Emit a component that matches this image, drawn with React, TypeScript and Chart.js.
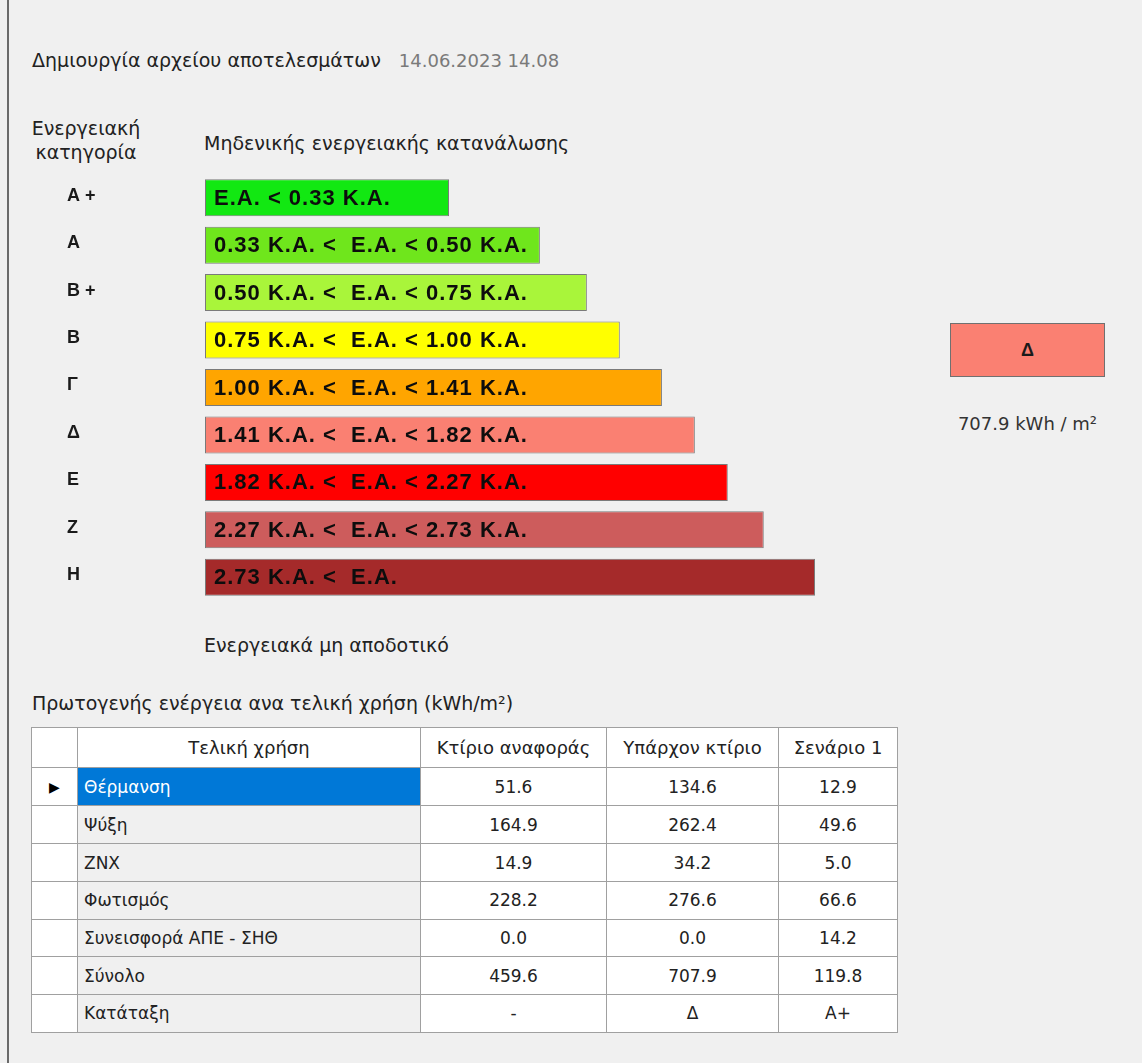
import React, { useEffect, useRef } from "react";
import { Chart, registerables } from "chart.js";

Chart.register(...registerables);

// ---------- data ----------
const categories = ["Α +", "Α", "Β +", "Β", "Γ", "Δ", "Ε", "Ζ", "Η"];
const bandLabels = [
  "Ε.Α. < 0.33 Κ.Α.",
  "0.33 Κ.Α. <  Ε.Α. < 0.50 Κ.Α.",
  "0.50 Κ.Α. <  Ε.Α. < 0.75 Κ.Α.",
  "0.75 Κ.Α. <  Ε.Α. < 1.00 Κ.Α.",
  "1.00 Κ.Α. <  Ε.Α. < 1.41 Κ.Α.",
  "1.41 Κ.Α. <  Ε.Α. < 1.82 Κ.Α.",
  "1.82 Κ.Α. <  Ε.Α. < 2.27 Κ.Α.",
  "2.27 Κ.Α. <  Ε.Α. < 2.73 Κ.Α.",
  "2.73 Κ.Α. <  Ε.Α.",
];
const barLengths = [4.0, 5.49, 6.26, 6.8, 7.49, 8.03, 8.57, 9.16, 10.0];
const barColors = [
  "#12e812",
  "#6fe61c",
  "#a9f53a",
  "#ffff00",
  "#ffa500",
  "#fa8072",
  "#ff0000",
  "#cd5c5c",
  "#a52a2a",
];

const creationLabel = "Δημιουργία αρχείου αποτελεσμάτων";
const creationDate = "14.06.2023 14.08";
const resultClass = "Δ";
const resultValue = "707.9 kWh / m²";

const columnHeaders = ["Τελική χρήση", "Κτίριο αναφοράς", "Υπάρχον κτίριο", "Σενάριο 1"];
const rowNames = ["Θέρμανση", "Ψύξη", "ΖΝΧ", "Φωτισμός", "Συνεισφορά ΑΠΕ - ΣΗΘ", "Σύνολο", "Κατάταξη"];
const referenceBuilding = ["51.6", "164.9", "14.9", "228.2", "0.0", "459.6", "-"];
const existingBuilding = ["134.6", "262.4", "34.2", "276.6", "0.0", "707.9", "Δ"];
const scenario1 = ["12.9", "49.6", "5.0", "66.6", "14.2", "119.8", "Α+"];

// ---------- styles ----------
const UI_FONT = '"DejaVu Sans", sans-serif';
const BAR_FONT = 'bold 22px "Liberation Sans", Arial, sans-serif';

const barTextPlugin = {
  id: "barText",
  afterDatasetsDraw(chart: any) {
    const ctx = chart.ctx;
    const meta = chart.getDatasetMeta(0);
    ctx.save();
    ctx.font = BAR_FONT;
    try {
      (ctx as any).letterSpacing = "1px";
    } catch (e) {}
    ctx.fillStyle = "#0d0d0d";
    ctx.textBaseline = "middle";
    ctx.textAlign = "left";
    meta.data.forEach((el: any, i: number) => {
      const p = el.getProps(["base", "y"], true);
      ctx.fillText(bandLabels[i], p.base + 9, p.y + 1);
    });
    ctx.restore();
  },
};

function BandChart() {
  const ref = useRef<HTMLCanvasElement | null>(null);
  useEffect(() => {
    if (!ref.current) return;
    const chart = new Chart(ref.current, {
      type: "bar",
      data: {
        labels: categories,
        datasets: [
          {
            data: barLengths,
            backgroundColor: barColors,
            borderColor: "#7a7a7a",
            borderWidth: 1,
            borderSkipped: false,
            barPercentage: 0.78,
            categoryPercentage: 1,
          },
        ],
      },
      options: {
        indexAxis: "y",
        responsive: false,
        animation: false,
        devicePixelRatio: 1,
        layout: { padding: { left: 27, right: 25, top: 14, bottom: 19 } },
        plugins: { legend: { display: false }, tooltip: { enabled: false } },
        scales: {
          x: { display: false, min: 0, max: 10 },
          y: {
            grid: { display: false },
            border: { display: false },
            afterFit: (scale: any) => {
              scale.width = 138;
            },
            ticks: {
              crossAlign: "far",
              labelOffset: -2,
              padding: 0,
              color: "#1a1a1a",
              font: { family: '"Liberation Sans", Arial, sans-serif', size: 18, weight: "bold" },
            },
          },
        },
      },
      plugins: [barTextPlugin],
    } as any);
    return () => chart.destroy();
  }, []);
  return (
    <canvas
      ref={ref}
      width={800}
      height={460}
      style={{ position: "absolute", left: 40, top: 160, width: 800, height: 460 }}
    />
  );
}

const textStyle: React.CSSProperties = {
  position: "absolute",
  fontFamily: UI_FONT,
  fontSize: 19,
  color: "#222",
  whiteSpace: "nowrap",
  lineHeight: "22px",
};

const gridColor = "#a0a0a0";

function DataTable() {
  const colWidths = [46, 343, 186, 172, 119];
  const cellBase: React.CSSProperties = {
    border: `1px solid ${gridColor}`,
    padding: 0,
    fontFamily: UI_FONT,
    fontSize: 17,
    color: "#222",
    whiteSpace: "nowrap",
  };
  return (
    <table
      style={{
        position: "absolute",
        left: 31,
        top: 727,
        borderCollapse: "collapse",
        tableLayout: "fixed",
        width: colWidths.reduce((a, b) => a + b, 0),
        background: "#fff",
      }}
    >
      <colgroup>
        {colWidths.map((w, i) => (
          <col key={i} style={{ width: w }} />
        ))}
      </colgroup>
      <tbody>
        <tr style={{ height: 40 }}>
          <td style={{ ...cellBase, background: "#fff" }} />
          {columnHeaders.map((h, i) => (
            <td key={i} style={{ ...cellBase, textAlign: "center", background: "#fff", fontSize: 18 }}>
              {h}
            </td>
          ))}
        </tr>
        {rowNames.map((name, r) => (
          <tr key={r} style={{ height: r < 3 ? 38 : 37.7 }}>
            <td style={{ ...cellBase, background: "#fff", textAlign: "center", fontSize: 14, color: "#000" }}>
              {r === 0 ? "▶" : ""}
            </td>
            <td
              style={{
                ...cellBase,
                paddingLeft: 6,
                background: r === 0 ? "#0078d7" : "#f0f0f0",
                color: r === 0 ? "#fff" : "#222",
              }}
            >
              {name}
            </td>
            <td style={{ ...cellBase, textAlign: "center" }}>{referenceBuilding[r]}</td>
            <td style={{ ...cellBase, textAlign: "center" }}>{existingBuilding[r]}</td>
            <td style={{ ...cellBase, textAlign: "center" }}>{scenario1[r]}</td>
          </tr>
        ))}
      </tbody>
    </table>
  );
}

export default function App() {
  return (
    <div
      style={{
        position: "absolute",
        left: 0,
        top: 0,
        width: 1142,
        height: 1063,
        background: "#f0f0f0",
        overflow: "hidden",
      }}
    >
      <div style={{ position: "absolute", left: 7, top: 0, width: 2, height: 1063, background: "#6a6a6a" }} />
      <div style={{ ...textStyle, left: 32, top: 49 }}>
        {creationLabel}
        <span style={{ color: "#7a7a7a", marginLeft: 18, fontSize: 18 }}>{creationDate}</span>
      </div>
      <div style={{ ...textStyle, left: 28, top: 116, width: 116, textAlign: "center", lineHeight: "24px" }}>
        Ενεργειακή
        <br />
        κατηγορία
      </div>
      <div style={{ ...textStyle, left: 204, top: 132 }}>Μηδενικής ενεργειακής κατανάλωσης</div>
      <BandChart />
      <div style={{ ...textStyle, left: 204, top: 634 }}>Ενεργειακά μη αποδοτικό</div>
      <div style={{ ...textStyle, left: 32, top: 692 }}>Πρωτογενής ενέργεια ανα τελική χρήση (kWh/m²)</div>
      <div
        style={{
          position: "absolute",
          left: 950,
          top: 323,
          width: 155,
          height: 54,
          boxSizing: "border-box",
          background: "#fa8072",
          border: "1px solid #707070",
          display: "flex",
          alignItems: "center",
          justifyContent: "center",
          fontFamily: '"Liberation Sans", Arial, sans-serif',
          fontWeight: "bold",
          fontSize: 18,
          color: "#1a1a1a",
        }}
      >
        {resultClass}
      </div>
      <div style={{ ...textStyle, left: 950, top: 413, width: 155, textAlign: "center", fontSize: 18, color: "#333" }}>
        {resultValue}
      </div>
      <DataTable />
    </div>
  );
}
